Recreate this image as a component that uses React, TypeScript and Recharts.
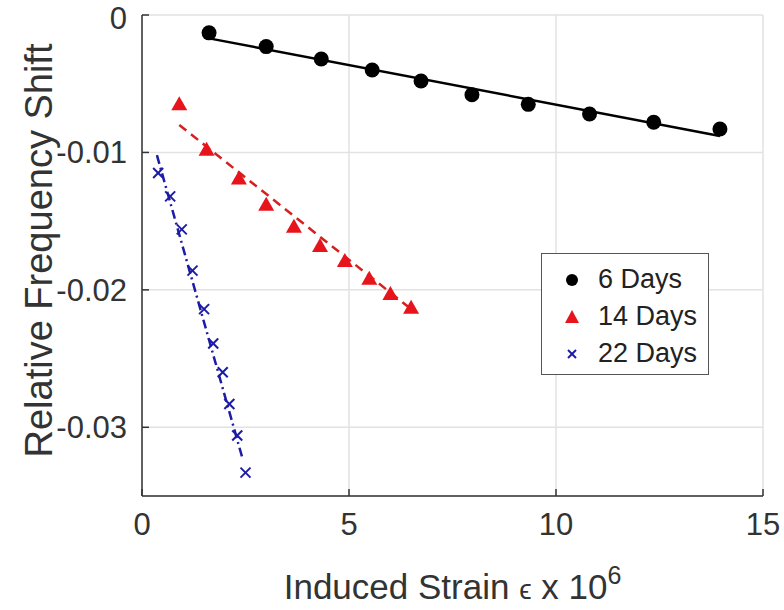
import React from "react";
import {
  ScatterChart,
  Scatter,
  XAxis,
  YAxis,
  CartesianGrid,
} from "recharts";

const strain6 = [1.62, 3.0, 4.33, 5.56, 6.74, 7.97, 9.33, 10.81, 12.36, 13.96];
const shift6 = [-0.0013, -0.0023, -0.0032, -0.004, -0.0048, -0.0058, -0.0065, -0.0072, -0.0078, -0.0083];

const strain14 = [0.9, 1.56, 2.34, 3.0, 3.67, 4.3, 4.9, 5.49, 6.0, 6.5];
const shift14 = [-0.0065, -0.0098, -0.0119, -0.0138, -0.0154, -0.0168, -0.0179, -0.0192, -0.0203, -0.0213];

const strain22 = [0.39, 0.68, 0.96, 1.22, 1.5, 1.72, 1.95, 2.11, 2.3, 2.5];
const shift22 = [-0.0115, -0.0132, -0.0156, -0.0186, -0.0214, -0.0239, -0.026, -0.0283, -0.0306, -0.0333];

// linear fit end points
const fitStrain6 = [1.62, 13.96];
const fitShift6 = [-0.0017, -0.0088];
const fitStrain14 = [0.9, 6.5];
const fitShift14 = [-0.008, -0.0214];
const fitStrain22 = [0.36, 2.44];
const fitShift22 = [-0.0102, -0.0324];

const xTicks = [0, 5, 10, 15];
const yTicks = [-0.03, -0.02, -0.01, 0];
const seriesNames = ["6 Days", "14 Days", "22 Days"];

const pairs = (xs: number[], ys: number[]) => xs.map((x, i) => ({ x, y: ys[i] }));

const BLACK = "#000000";
const RED = "#e8141c";
const RED_LINE = "#d42020";
const BLUE = "#1c1ca8";
const FONT = "'Liberation Sans', Arial, sans-serif";

const Dot = (props: any) => <circle cx={props.cx} cy={props.cy} r={7.5} fill={BLACK} />;

const Tri = (props: any) => {
  const { cx, cy } = props;
  return <polygon points={`${cx},${cy - 8} ${cx - 8},${cy + 6} ${cx + 8},${cy + 6}`} fill={RED} />;
};

const Cross = (props: any) => {
  const { cx, cy } = props;
  const s = 5;
  return (
    <g stroke={BLUE} strokeWidth={2}>
      <line x1={cx - s} y1={cy - s} x2={cx + s} y2={cy + s} />
      <line x1={cx - s} y1={cy + s} x2={cx + s} y2={cy - s} />
    </g>
  );
};

const NoDot = () => <g />;

const LegendBox = () => {
  const marks = [
    <circle cx={12} cy={12} r={6} fill={BLACK} />,
    <polygon points="12,5 5,18 19,18" fill={RED} />,
    <g stroke={BLUE} strokeWidth={2}>
      <line x1={8} y1={8} x2={16} y2={16} />
      <line x1={8} y1={16} x2={16} y2={8} />
    </g>,
  ];
  return (
    <div
      style={{
        position: "absolute",
        left: 541,
        top: 253,
        width: 168,
        height: 122,
        border: "1.5px solid #555",
        background: "#fff",
        boxSizing: "border-box",
        padding: "7px 0 0 18px",
        fontFamily: FONT,
        fontSize: 27,
        color: "#222",
      }}
    >
      {seriesNames.map((name, i) => (
        <div key={name} style={{ display: "flex", alignItems: "center", height: 37 }}>
          <svg width={24} height={24} style={{ marginRight: 14 }}>
            {marks[i]}
          </svg>
          <span>{name}</span>
        </div>
      ))}
    </div>
  );
};

const YLabel = (props: any) => {
  const cy = props.viewBox.y + props.viewBox.height / 2 - 5;
  return (
    <text
      x={52}
      y={cy}
      transform={`rotate(-90, 52, ${cy})`}
      textAnchor="middle"
      fontFamily={FONT}
      fontSize={38}
      fill="#333"
    >
      Relative Frequency Shift
    </text>
  );
};

const XLabel = (props: any) => {
  const cx = props.viewBox.x + props.viewBox.width / 2;
  return (
    <text x={cx} y={599} textAnchor="middle" fontFamily={FONT} fontSize={35} fill="#333">
      Induced Strain <tspan fontSize={28}>ϵ</tspan> x 10
      <tspan dy={-15} fontSize={25}>6</tspan>
    </text>
  );
};

export default function App() {
  return (
    <div style={{ position: "absolute", left: 0, top: 0, width: 784, height: 610, background: "#fff" }}>
      <ScatterChart width={784} height={610} margin={{ top: 15, right: 21, bottom: 0, left: 0 }}>
        <CartesianGrid stroke="#e2e2e2" strokeWidth={1.5} />
        <XAxis
          type="number"
          dataKey="x"
          domain={[0, 15]}
          ticks={xTicks}
          height={114}
          stroke="#333"
          strokeWidth={1.5}
          tickSize={-7}
          tickMargin={24}
          tick={{ fontFamily: FONT, fontSize: 31, fill: "#333" }}
          label={<XLabel />}
        />
        <YAxis
          type="number"
          dataKey="y"
          domain={[-0.035, 0]}
          ticks={yTicks}
          width={142}
          stroke="#333"
          strokeWidth={1.5}
          tickSize={-7}
          tickMargin={22}
          tick={{ fontFamily: FONT, fontSize: 31, fill: "#333" }}
          label={<YLabel />}
        />
        <Scatter
          name={seriesNames[0]}
          data={pairs(fitStrain6, fitShift6)}
          line={{ stroke: BLACK, strokeWidth: 2.5 }}
          shape={<NoDot />}
          isAnimationActive={false}
        />
        <Scatter
          name={seriesNames[1]}
          data={pairs(fitStrain14, fitShift14)}
          line={{ stroke: RED_LINE, strokeWidth: 2.5, strokeDasharray: "9 6" }}
          shape={<NoDot />}
          isAnimationActive={false}
        />
        <Scatter
          name={seriesNames[2]}
          data={pairs(fitStrain22, fitShift22)}
          line={{ stroke: BLUE, strokeWidth: 2.5, strokeDasharray: "9 4 2 4" }}
          shape={<NoDot />}
          isAnimationActive={false}
        />
        <Scatter name={seriesNames[0]} data={pairs(strain6, shift6)} shape={<Dot />} isAnimationActive={false} />
        <Scatter name={seriesNames[1]} data={pairs(strain14, shift14)} shape={<Tri />} isAnimationActive={false} />
        <Scatter name={seriesNames[2]} data={pairs(strain22, shift22)} shape={<Cross />} isAnimationActive={false} />
      </ScatterChart>
      <LegendBox />
    </div>
  );
}
